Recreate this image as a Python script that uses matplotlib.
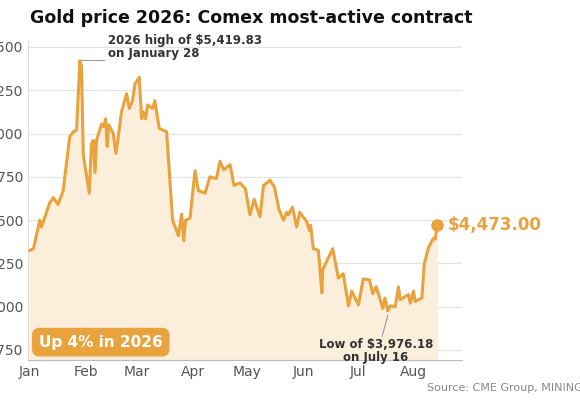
import matplotlib.pyplot as plt
import numpy as np

# days since Jan 1, 2026 and Comex price (USD/oz)
days = [0, 2, 5.5, 6.4, 11, 13, 15.6, 18.4, 22, 24, 25.8, 27.6, 28.5, 29.5, 32.8, 34, 35, 36,
        36.8, 39.6, 40.9, 41.8, 42.7, 43.6, 46, 47.5, 48.8, 50.6, 53.4, 54.9, 56.7, 58, 60.4,
        61.7, 62.6, 63.9, 65, 67.8, 69, 71.4, 75.5, 78.8, 82, 83.8, 85, 86, 88.4, 91.2, 93,
        96.7, 99.4, 103, 105, 107, 110.5, 112.7, 116, 119, 121.5, 123.8, 127, 129, 132.6, 135,
        137.6, 140, 141.8, 142.7, 145, 147.3, 149, 152.9, 154.3, 155, 156.5, 159.3, 161.2,
        161.7, 167.2, 170.3, 173, 175.9, 177.7, 181.4, 184, 187.5, 189.3, 191.2, 193.4, 194.8,
        196, 197.6, 199, 201.7, 203.5, 204.4, 209, 210, 211.8, 212.7, 216.4, 217.7, 220,
        222.8, 223.8, 224.7]
price = [4325, 4335, 4500, 4460, 4600, 4630, 4590, 4670, 4980, 5010, 5020, 5420, 5390, 4880,
         4655, 4940, 4960, 4775, 4960, 5055, 5040, 5085, 4925, 5050, 5000, 4885, 4980, 5125,
         5230, 5145, 5190, 5285, 5325, 5085, 5125, 5085, 5165, 5145, 5190, 5030, 5010, 4500,
         4410, 4535, 4380, 4500, 4510, 4785, 4670, 4655, 4750, 4740, 4840, 4790, 4820, 4700,
         4715, 4680, 4530, 4620, 4520, 4700, 4730, 4690, 4560, 4500, 4545, 4530, 4575, 4460,
         4545, 4490, 4440, 4470, 4335, 4325, 4080, 4215, 4335, 4165, 4190, 4005, 4090, 4010,
         4160, 4155, 4075, 4115, 4040, 3990, 4050, 3976, 4005, 4000, 4115, 4040, 4070, 4020,
         4090, 4030, 4050, 4245, 4340, 4395, 4390, 4473]

month_days = [0, 31, 59, 90, 120, 151, 181, 212]
month_labels = ["Jan", "Feb", "Mar", "Apr", "May", "Jun", "Jul", "Aug"]
y_ticks = [3750, 4000, 4250, 4500, 4750, 5000, 5250, 5500]

line_c = "#E8A33D"
fill_c = "#FBEEDB"

fig = plt.figure(figsize=(5.8, 4), dpi=100)
ax = fig.add_axes([0.048, 0.1, 0.749, 0.8])

ax.fill_between(days, price, 3600, color=fill_c, zorder=1)
ax.plot(days, price, color=line_c, linewidth=2.2, zorder=3)
ax.plot(days[-1], price[-1], "o", color=line_c, markersize=8, zorder=4)

ax.set_xlim(-1.1, 238.7)
ax.set_ylim(3692, 5540)
ax.set_yticks(y_ticks)
ax.set_yticklabels([f"{v:,}" for v in y_ticks])
ax.set_xticks(month_days)
ax.set_xticklabels(month_labels)
ax.tick_params(length=0, labelsize=10, labelcolor="#555555")
ax.tick_params(axis="y", pad=3)
ax.grid(axis="y", color="#e3e3e3", linewidth=0.9)
ax.set_axisbelow(True)
for s in ["top", "right"]:
    ax.spines[s].set_visible(False)
ax.spines["left"].set_color("#dddddd")
ax.spines["bottom"].set_color("#bbbbbb")

ax.annotate("$4,473.00", (days[-1], price[-1]), xytext=(8, 0), textcoords="offset points",
            ha="left", va="center", fontsize=12, fontweight="bold", color=line_c,
            annotation_clip=False)

# high annotation
ax.plot([28.5, 41], [5425, 5425], color="#999999", linewidth=0.8)
ax.text(43, 5500, "2026 high of $5,419.83\non January 28", fontsize=8.5, fontweight="bold",
        color="#333333", va="center", ha="left", linespacing=0.95)

# low annotation
ax.plot([197.6, 194.5], [3950, 3830], color="#999999", linewidth=0.8)
ax.text(191, 3745, "Low of $3,976.18\non July 16", fontsize=8.5, fontweight="bold",
        color="#333333", va="center", ha="center", linespacing=0.95)

ax.text(5, 3795, "Up 4% in 2026", fontsize=11, fontweight="bold", color="white",
        va="center", ha="left",
        bbox=dict(boxstyle="round,pad=0.45,rounding_size=0.5", fc=line_c, ec="none"))

fig.text(30 / 580, 1 - 18 / 400, "Gold price 2026: Comex most-active contract",
         fontsize=12.5, fontweight="bold", color="#111111", va="center", ha="left")
fig.text(427 / 580, 1 - 388 / 400, "Source: CME Group, MINING.COM", fontsize=8,
         color="#888888", va="center", ha="left")

fig.savefig("out.png", dpi=100)
